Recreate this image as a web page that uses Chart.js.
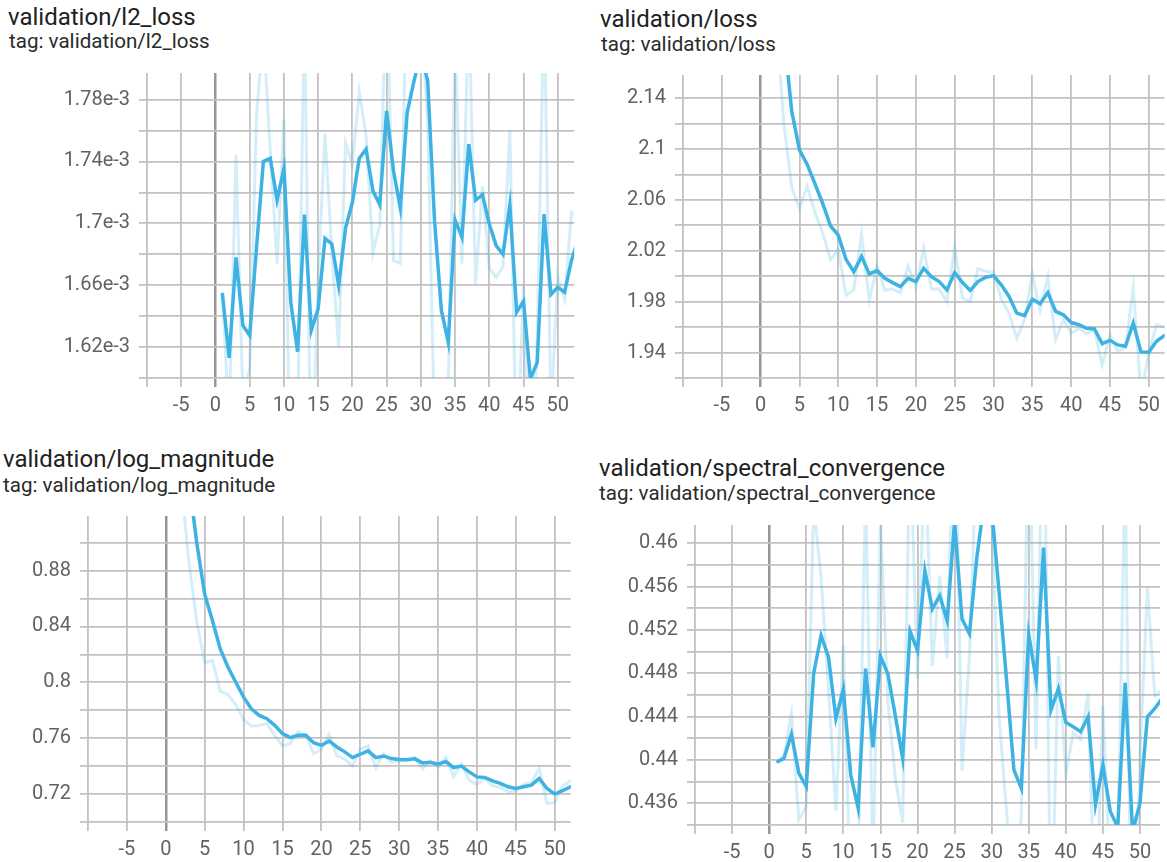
<!DOCTYPE html>
<html>
<head>
<meta charset="utf-8">
<script src="https://cdn.jsdelivr.net/npm/chart.js@4.4.1/dist/chart.umd.min.js"></script>
<style>
  body { margin: 0; background: #fff; width: 1167px; height: 862px; overflow: hidden; position: relative; font-family: Roboto, sans-serif; }
  .title { position: absolute; font-size: 24px; line-height: 1; color: #212121; white-space: nowrap; }
  .tag { position: absolute; font-size: 20.6px; line-height: 1; color: #2b2b2b; white-space: nowrap; }
  canvas { position: absolute; }
</style>
</head>
<body>
<div class="title" style="left:8px;top:5px">validation/l2_loss</div>
<div class="tag" style="left:9px;top:31px">tag: validation/l2_loss</div>
<div class="title" style="left:600px;top:7px">validation/loss</div>
<div class="tag" style="left:601px;top:34px">tag: validation/loss</div>
<div class="title" style="left:3px;top:447px">validation/log_magnitude</div>
<div class="tag" style="left:3px;top:475px">tag: validation/log_magnitude</div>
<div class="title" style="left:599px;top:456px">validation/spectral_convergence</div>
<div class="tag" style="left:599px;top:483px">tag: validation/spectral_convergence</div>

<script>
// steps (x values) shared by all four runs
const steps = [1, 2, 3, 4, 5, 6, 7, 8, 9, 10, 11, 12, 13, 14, 15, 16, 17, 18, 19, 20,
  21, 22, 23, 24, 25, 26, 27, 28, 29, 30, 31, 32, 33, 34, 35, 36, 37, 38, 39, 40,
  41, 42, 43, 44, 45, 46, 47, 48, 49, 50, 51, 52, 53];

const xTicks = [-10, -5, 0, 5, 10, 15, 20, 25, 30, 35, 40, 45, 50];
const xTickLabels = ['', '-5', '0', '5', '10', '15', '20', '25', '30', '35', '40', '45', '50'];

// validation/l2_loss
const l2Smoothed = [0.001655, 0.001613, 0.001678, 0.001634, 0.0016275, 0.0016845, 0.00174, 0.001742, 0.001715, 0.0017355,
  0.001649, 0.001617, 0.0017056, 0.0016308, 0.0016447, 0.0016903, 0.0016867, 0.0016598, 0.001697, 0.0017135,
  0.001742, 0.001748, 0.001721, 0.001712, 0.0017727, 0.001734, 0.00171, 0.0017716, 0.001792, 0.00181,
  0.001792, 0.0017017, 0.0016437, 0.0016232, 0.0017022, 0.001691, 0.0017512, 0.001715, 0.0017185, 0.0016996,
  0.0016856, 0.00168, 0.0017118, 0.0016426, 0.0016497, 0.0015995, 0.00161, 0.001706, 0.001654, 0.0016587,
  0.0016555, 0.001676, 0.00169];
const l2Raw = [0.001655, 0.001572, 0.001744, 0.001588, 0.001606, 0.00177, 0.001823, 0.001748, 0.001674, 0.001767,
  0.00152, 0.00157, 0.001838, 0.00152, 0.001666, 0.001758, 0.001681, 0.00162, 0.001752, 0.001738,
  0.001785, 0.001757, 0.001681, 0.001699, 0.001864, 0.001676, 0.001674, 0.001864, 0.001823, 0.001837,
  0.001765, 0.001566, 0.001557, 0.001592, 0.001821, 0.001674, 0.001842, 0.001661, 0.001724, 0.001671,
  0.001665, 0.001672, 0.00176, 0.001539, 0.00166, 0.001527, 0.001624, 0.00185, 0.001576, 0.001666,
  0.001651, 0.001707, 0.001704];
const l2Ticks = [0.0016, 0.00162, 0.00164, 0.00166, 0.00168, 0.0017, 0.00172, 0.00174, 0.00176, 0.00178];
const l2TickLabels = ['', '1.62e-3', '', '1.66e-3', '', '1.7e-3', '', '1.74e-3', '', '1.78e-3'];

// validation/loss
const lossSmoothed = [2.42, 2.28, 2.19, 2.13, 2.0993, 2.0879, 2.0727, 2.0571, 2.0396, 2.0323,
  2.0133, 2.0036, 2.0154, 2.0018, 2.0044, 1.9984, 1.995, 1.9918, 1.9984, 1.9958,
  2.0062, 1.9997, 1.9958, 1.9893, 2.0029, 1.995, 1.9888, 1.9958, 1.9992, 2.0005,
  1.9932, 1.9841, 1.971, 1.969, 1.982, 1.9784, 1.9872, 1.9724, 1.9697, 1.9637,
  1.9619, 1.959, 1.9585, 1.947, 1.9496, 1.946, 1.945, 1.9632, 1.9405, 1.9403,
  1.9489, 1.9533, 1.955];
const lossRaw = [2.42, 2.2, 2.12, 2.07, 2.053, 2.071, 2.05, 2.034, 2.013, 2.021,
  1.985, 1.989, 2.033, 1.981, 2.008, 1.989, 1.99, 1.987, 2.008, 1.992,
  2.022, 1.99, 1.99, 1.98, 2.023, 1.983, 1.98, 2.006, 2.004, 2.003,
  1.982, 1.971, 1.951, 1.966, 2.002, 1.973, 2.0, 1.95, 1.966, 1.955,
  1.959, 1.955, 1.958, 1.93, 1.954, 1.941, 1.944, 1.991, 1.907, 1.94,
  1.962, 1.96, 1.958];
const lossTicks = [1.92, 1.94, 1.96, 1.98, 2.0, 2.02, 2.04, 2.06, 2.08, 2.1, 2.12, 2.14];
const lossTickLabels = ['', '1.94', '', '1.98', '', '2.02', '', '2.06', '', '2.1', '', '2.14'];

// validation/log_magnitude
const logMagSmoothed = [1.06, 1.0, 0.943, 0.899, 0.8631, 0.8441, 0.8239, 0.8108, 0.8001, 0.7894,
  0.7811, 0.7763, 0.774, 0.7692, 0.7633, 0.7604, 0.7621, 0.7621, 0.7568, 0.7549,
  0.758, 0.7537, 0.7502, 0.7461, 0.7485, 0.7509, 0.7461, 0.7473, 0.7454, 0.7447,
  0.7445, 0.7452, 0.7423, 0.7428, 0.7414, 0.7433, 0.739, 0.74, 0.7359, 0.7323,
  0.7319, 0.7295, 0.7276, 0.7252, 0.724, 0.7252, 0.7264, 0.7312, 0.724, 0.72,
  0.7224, 0.7252, 0.727];
const logMagRaw = [1.06, 0.94, 0.885, 0.843, 0.814, 0.8156, 0.7936, 0.7912, 0.7841, 0.7734,
  0.7687, 0.7691, 0.7706, 0.762, 0.7545, 0.7561, 0.7647, 0.7621, 0.7489, 0.7521,
  0.7627, 0.7473, 0.745, 0.74, 0.7521, 0.7545, 0.7389, 0.7491, 0.7426, 0.7437,
  0.7442, 0.7463, 0.738, 0.7436, 0.7393, 0.7462, 0.7326, 0.7415, 0.7298, 0.7269,
  0.7313, 0.7259, 0.7248, 0.7216, 0.7222, 0.727, 0.7282, 0.7384, 0.7132, 0.714,
  0.726, 0.7294, 0.729];
const logMagTicks = [0.7, 0.72, 0.74, 0.76, 0.78, 0.8, 0.82, 0.84, 0.86, 0.88, 0.9];
const logMagTickLabels = ['', '0.72', '', '0.76', '', '0.8', '', '0.84', '', '0.88', ''];

// validation/spectral_convergence
const specSmoothed = [0.43979, 0.44016, 0.44239, 0.43878, 0.43755, 0.44796, 0.45149, 0.44949, 0.44383, 0.44652,
  0.43862, 0.43556, 0.44842, 0.44116, 0.44959, 0.44796, 0.44413, 0.44015, 0.45188, 0.45011,
  0.45746, 0.45394, 0.45516, 0.45286, 0.462, 0.45302, 0.45164, 0.45868, 0.4638, 0.4632,
  0.4555, 0.44747, 0.43908, 0.4374, 0.45158, 0.44735, 0.4596, 0.4446, 0.44658, 0.44346,
  0.44306, 0.4426, 0.44398, 0.43587, 0.43954, 0.43525, 0.4338, 0.44711, 0.4334, 0.43602,
  0.44398, 0.44475, 0.4457];
const specRaw = [0.43979, 0.4404, 0.4443, 0.4345, 0.4357, 0.4636, 0.4568, 0.4465, 0.4353, 0.4506,
  0.4268, 0.431, 0.465, 0.4303, 0.4622, 0.4455, 0.4384, 0.4342, 0.4695, 0.4475,
  0.4685, 0.4487, 0.457, 0.4494, 0.4757, 0.439, 0.4496, 0.4692, 0.4715, 0.4623,
  0.444, 0.4354, 0.4265, 0.4349, 0.4729, 0.441, 0.478, 0.4221, 0.4496, 0.4388,
  0.4425, 0.4419, 0.4461, 0.4237, 0.445, 0.4288, 0.4316, 0.4671, 0.4128, 0.44,
  0.4559, 0.4459, 0.4465];
const specTicks = [0.434, 0.436, 0.438, 0.44, 0.442, 0.444, 0.446, 0.448, 0.45, 0.452, 0.454, 0.456, 0.458, 0.46];
const specTickLabels = ['', '0.436', '', '0.44', '', '0.444', '', '0.448', '', '0.452', '', '0.456', '', '0.46'];

Chart.defaults.font.family = 'Roboto, sans-serif';

const LINE = '#3db2e3';
const LINE_FAINT = 'rgba(61, 178, 227, 0.22)';
const GRID = '#c2c2c2';
const ZERO = '#969696';
const LABEL = '#626262';

// plot area of each panel, in page pixels
const panels = [
  { area: { left: 147, top: 72, right: 576, bottom: 378 }, xMax: 52.4, yMin: 0.0016, yMax: 0.0017972,
    smoothed: l2Smoothed, raw: l2Raw, yTicks: l2Ticks, yLabels: l2TickLabels },
  { area: { left: 683, top: 74, right: 1167, bottom: 378 }, xMax: 52.05, yMin: 1.92, yMax: 2.1582,
    smoothed: lossSmoothed, raw: lossRaw, yTicks: lossTicks, yLabels: lossTickLabels },
  { area: { left: 88, top: 515, right: 573, bottom: 822 }, xMax: 52.06, yMin: 0.7, yMax: 0.9191,
    smoothed: logMagSmoothed, raw: logMagRaw, yTicks: logMagTicks, yLabels: logMagTickLabels },
  { area: { left: 695, top: 524, right: 1160, bottom: 825 }, xMax: 52.7, yMin: 0.434, yMax: 0.46168,
    smoothed: specSmoothed, raw: specRaw, yTicks: specTicks, yLabels: specTickLabels }
];

const YW = 85, XH = 40, TOP = 20;

panels.forEach(p => {
  const a = p.area;
  const left = a.left - YW, top = a.top - TOP;
  const w = a.right - left, h = a.bottom + XH - top;
  const canvas = document.createElement('canvas');
  canvas.width = w;
  canvas.height = h;
  canvas.style.left = left + 'px';
  canvas.style.top = top + 'px';
  canvas.style.width = w + 'px';
  canvas.style.height = h + 'px';
  document.body.appendChild(canvas);

  new Chart(canvas, {
    type: 'line',
    data: {
      datasets: [{
        data: steps.map((s, i) => ({ x: s, y: p.smoothed[i] })),
        borderColor: LINE,
        borderWidth: 3.5,
        pointRadius: 0,
        tension: 0,
        clip: 0
      }, {
        data: steps.map((s, i) => ({ x: s, y: p.raw[i] })),
        borderColor: LINE_FAINT,
        borderWidth: 3,
        pointRadius: 0,
        tension: 0,
        clip: 0
      }]
    },
    options: {
      responsive: false,
      animation: false,
      devicePixelRatio: 1,
      layout: { padding: { top: TOP, left: 0, right: 0, bottom: 0 } },
      plugins: { legend: { display: false }, tooltip: { enabled: false } },
      scales: {
        x: {
          type: 'linear',
          min: -10,
          max: p.xMax,
          afterBuildTicks: axis => { axis.ticks = xTicks.map(v => ({ value: v })); },
          afterFit: axis => { axis.height = XH; },
          ticks: {
            autoSkip: false,
            maxRotation: 0,
            padding: 7,
            color: LABEL,
            font: { size: 20 },
            callback: (v, i) => xTickLabels[i]
          },
          grid: {
            color: c => (c.tick && c.tick.value === 0) ? ZERO : GRID,
            lineWidth: c => (c.tick && c.tick.value === 0) ? 2.5 : 1.8,
            tickLength: 9
          },
          border: { display: false }
        },
        y: {
          type: 'linear',
          min: p.yMin,
          max: p.yMax,
          afterBuildTicks: axis => { axis.ticks = p.yTicks.map(v => ({ value: v })); },
          afterFit: axis => { axis.width = YW; },
          ticks: {
            autoSkip: false,
            padding: 9,
            color: LABEL,
            font: { size: 20 },
            callback: (v, i) => p.yLabels[i]
          },
          grid: { color: GRID, lineWidth: 1.8, tickLength: 8 },
          border: { display: false }
        }
      }
    }
  });
});
</script>
</body>
</html>
